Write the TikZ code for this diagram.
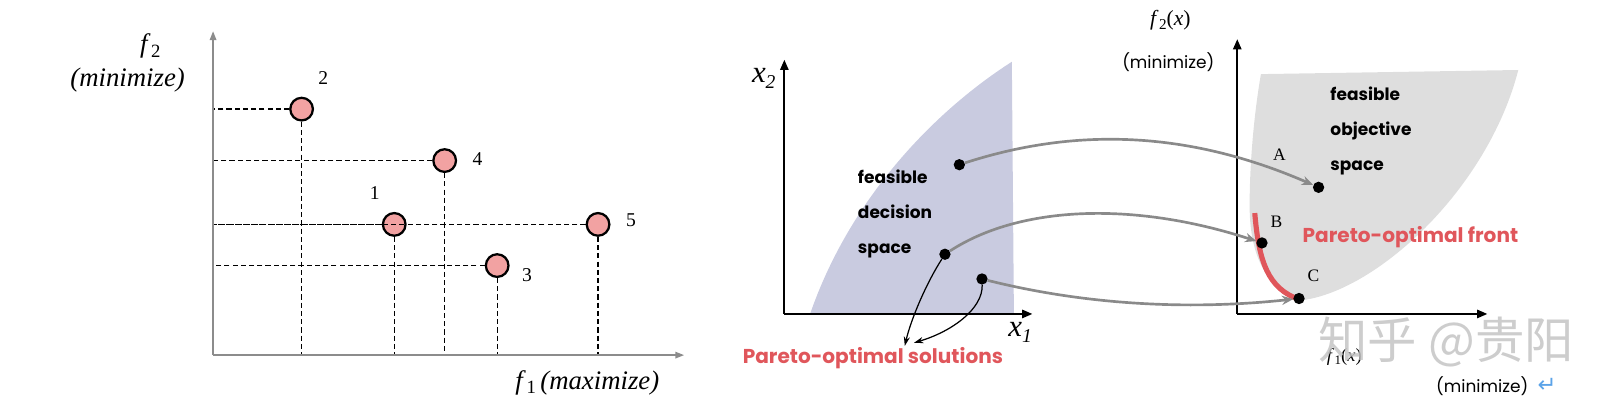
\documentclass[tikz,border=0pt]{standalone}
\usepackage{fontspec}
\setmainfont{Liberation Serif}
\newfontfamily\gothic{Poppins}
\newfontfamily\plainsans{Poppins}
\newfontfamily\cjk{Noto Sans CJK SC}
\newfontfamily\symb{DejaVu Sans}
\usetikzlibrary{arrows.meta}
\definecolor{pinkpt}{HTML}{F2A2A2}
\definecolor{axisgray}{HTML}{8C8C8C}
\definecolor{decblue}{HTML}{C9CBE0}
\definecolor{objgray}{HTML}{DEDEDE}
\definecolor{paretored}{HTML}{E0565B}
\definecolor{arrgray}{HTML}{8A8A8A}
\definecolor{wm}{HTML}{C4C4C4}
\definecolor{retblue}{HTML}{5BA3E8}
\tikzset{
  gaxis/.style={draw=axisgray, line width=2.4pt, -{Triangle[length=9pt,width=6pt]}},
  baxis/.style={draw=black, line width=2pt, -{Triangle[length=10pt,width=8pt]}},
  dashline/.style={draw=black, line width=1.2pt, dash pattern=on 5pt off 3pt},
  pinkdot/.style={circle, fill=pinkpt, draw=black, line width=2.2pt, minimum size=22pt, inner sep=0pt},
  blackdot/.style={circle, fill=black, minimum size=11pt, inner sep=0pt},
  numlab/.style={font=\fontsize{19}{21}\selectfont},
  maplink/.style={draw=arrgray, line width=2.6pt, -{Stealth[length=11pt,width=9pt]}},
  solarrow/.style={draw=black, line width=1.2pt, -{Stealth[length=9pt,width=6pt]}},
  gothtext/.style={font=\gothic\bfseries\fontsize{16.5}{34}\selectfont, align=left},
  redtext/.style={text=paretored, font=\gothic\bfseries\fontsize{19.5}{22}\selectfont},
  sublab/.style={font=\plainsans\fontsize{16.5}{18}\selectfont},
}
\newcommand{\fsb}[1]{\textit{f}\kern0.5pt\raisebox{-0.35ex}{\fontsize{0.7em}{1em}\selectfont #1}}
\begin{document}
\begin{tikzpicture}[x=1pt,y=-1pt]
\useasboundingbox (0,0) rectangle (1568,402);
% ---------------- left plot ----------------
\coordinate (O1) at (207,345);
\coordinate (Y1) at (207,30);
\coordinate (X1) at (665,345);
\node[pinkdot] (p2) at (293,106) {};
\node[pinkdot] (p4) at (432,156) {};
\node[pinkdot] (p1) at (383,218) {};
\node[pinkdot] (p5) at (581,218) {};
\node[pinkdot] (p3) at (483,258) {};
\foreach \p in {p1,p2,p3,p4,p5}{
  \draw[dashline] (\p.west) -- (O1 |- \p);
  \draw[dashline] (\p.south) -- (\p |- O1);
}
\draw[gaxis] (O1) -- (Y1);
\draw[gaxis] (O1) -- (X1);
\node[numlab] (l2) at (314,76) {2};
\node[numlab] (l4) at (464,155) {4};
\node[numlab] (l1) at (364,188) {1};
\node[numlab] (l5) at (613,214) {5};
\node[numlab] (l3) at (512,267) {3};
\node[font=\fontsize{26}{28}\selectfont] (f2l) at (146,45) {\fsb{2}};
\node[font=\fontsize{26}{28}\selectfont\itshape] (minl) at (124,78) {(minimize)};
\node[font=\fontsize{26}{28}\selectfont, anchor=east] (f1l) at (644,372) {\fsb{1}\,\textit{(maximize)}};
% ---------------- decision space ----------------
\fill[decblue] (787,305) .. controls (825,195) and (905,110) .. (983,60) -- (985,305) -- cycle;
\coordinate (O2) at (762,305);
\draw[baxis] (O2) -- (762,58);
\draw[baxis] (O2) -- (1003,305);
\node[font=\fontsize{30}{32}\selectfont\itshape] (x2l) at (742,76) {x\raisebox{-0.4ex}{\fontsize{19}{21}\selectfont 2}};
\node[font=\fontsize{30}{32}\selectfont\itshape] (x1l) at (991,323) {x\raisebox{-0.4ex}{\fontsize{19}{21}\selectfont 1}};
\node[gothtext, anchor=west] (dec) at (830,208) {feasible\\decision\\space};
\node[blackdot] (s1) at (932,160) {};
\node[blackdot] (s2) at (918,247) {};
\node[blackdot] (s3) at (954,271) {};
\node[redtext] (sols) at (848,348) {Pareto-optimal solutions};
\coordinate (t1) at (879,336);
\coordinate (t2) at (888,333);
\draw[solarrow] (s2) .. controls (900,275) and (885,310) .. (t1);
\draw[solarrow] (s3) .. controls (955,300) and (925,322) .. (t2);
% ---------------- objective space ----------------
\fill[objgray] (1225,72) -- (1475,68) .. controls (1445,185) and (1335,285) .. (1262,292)
  .. controls (1228,278) and (1214,245) .. (1214,200) .. controls (1214,150) and (1220,100) .. (1225,72) -- cycle;
\coordinate (O3) at (1202,305);
\draw[baxis] (O3) -- (1202,38);
\draw[baxis] (O3) -- (1445,305);
\draw[paretored, line width=5pt] (1219,207) .. controls (1223,255) and (1232,280) .. (1262,291);
\node[blackdot] (A) at (1281,182) {};
\node[blackdot] (B) at (1226,236) {};
\node[blackdot] (C) at (1262,290) {};
\node[font=\fontsize{17}{19}\selectfont] (Al) at (1243,150) {A};
\node[font=\fontsize{17}{19}\selectfont] (Bl) at (1240,215) {B};
\node[font=\fontsize{17}{19}\selectfont] (Cl) at (1276,268) {C};
\node[gothtext, anchor=west] (obj) at (1289,127) {feasible\\objective\\space};
\node[redtext, anchor=west] (front) at (1262,230) {Pareto-optimal front};
\node[font=\fontsize{21}{23}\selectfont] (f2x) at (1137,20) {\fsb{2}(\textit{x})};
\node[sublab] (min2) at (1135,60) {(minimize)};
\node[font=\fontsize{18}{20}\selectfont] (f1x) at (1306,347) {\fsb{1}(\textit{x})};
\node[sublab] (min3) at (1440,375) {(minimize)};
\node[font=\symb\fontsize{22}{24}\selectfont, text=retblue] (ret) at (1503,374) {↵};
\node[font=\cjk\fontsize{48}{52}\selectfont, text=wm, opacity=0.85] (wmk) at (1405,332) {知乎 @贵阳};
% mapping arrows
\draw[maplink] (s1) .. controls (1040,125) and (1150,125) .. (A);
\draw[maplink] (s2) .. controls (990,200) and (1100,195) .. (B);
\draw[maplink] (s3) .. controls (1050,295) and (1150,302) .. (C);
\end{tikzpicture}
\end{document}
